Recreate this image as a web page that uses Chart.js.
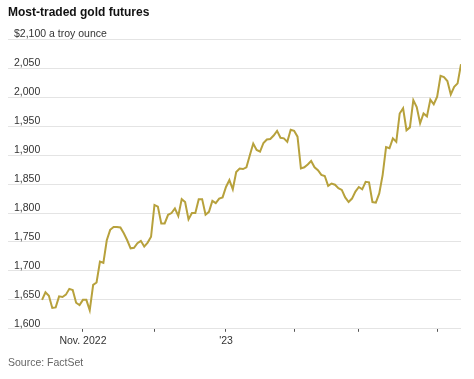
<!DOCTYPE html>
<html>
<head>
<meta charset="utf-8">
<script src="https://cdn.jsdelivr.net/npm/chart.js@4/dist/chart.umd.min.js"></script>
<style>
html,body{margin:0;padding:0;background:#fff;}
#wrap{width:474px;height:379px;position:relative;}
</style>
</head>
<body>
<div id="wrap"><canvas id="c" width="474" height="379"></canvas></div>
<script>
// Most-traded gold futures, daily settle ($ per troy ounce), mid-Oct 2022 to mid-Apr 2023
const prices = [
  1650,1663,1657,1636,1637,1656,1655,1659,1669,1667,1645,1641,1650,1650,1632,1676,1680,1716,1714,1753,
  1771,1776,1776,1775,1765,1753,1739,1740,1748,
  1752,1742,1749,1759,1814,1811,1782,1782,1797,1800,1808,1795,1824,1819,1789,1800,1800,1824,1824,1797,
  1802,1821,1817,1825,1827,1845,1857,1841,
  1871,1877,1876,1879,1900,1920,1909,1906,1921,1927,1928,1934,1942,1930,1929,1923,1944,1942,1932,1877,
  1879,1884,1890,1879,1874,1866,1864,1847,1851,1849,1843,1840,1827,1819,
  1825,1837,1845,1841,1854,1853,1819,1818,1834,1866,1914,1912,1929,1923,1972,1981,1943,1948,1995,1983,
  1955,1972,1967,1996,1988,2001,2037,2035,2028,2005,2018,2024,2057
];
// x tick positions (trading-day index of first session of each month) and their labels
const monthTickIdx = [12, 33, 54, 74, 93, 116];
const monthTickText = ['Nov. 2022', '', "'23", '', '', ''];
const yTicks = [1600,1650,1700,1750,1800,1850,1900,1950,2000,2050,2100];
const yTopLabel = '$2,100 a troy ounce';

const FONT = "'Liberation Sans',Arial,sans-serif";

new Chart(document.getElementById('c'), {
  type: 'line',
  data: {
    datasets: [{
      data: prices.map((p, i) => ({x: i, y: p})),
      borderColor: '#b7a13c',
      borderWidth: 2,
      pointRadius: 0,
      tension: 0,
      fill: false
    }]
  },
  options: {
    responsive: false,
    animation: false,
    layout: {padding: {left: 8, right: 13, top: 0, bottom: 0}},
    plugins: {
      legend: {display: false},
      tooltip: {enabled: false},
      title: {
        display: true,
        text: 'Most-traded gold futures',
        align: 'start',
        color: '#111',
        font: {family: FONT, size: 12, weight: 'bold'},
        padding: {top: 5, bottom: 20}
      },
      subtitle: {
        display: true,
        position: 'bottom',
        text: 'Source: FactSet',
        align: 'start',
        color: '#666',
        font: {family: FONT, size: 10.5},
        padding: {top: 6, bottom: 10}
      }
    },
    scales: {
      x: {
        type: 'linear',
        min: -10,
        max: prices.length - 1,
        afterBuildTicks: (axis) => { axis.ticks = monthTickIdx.map(v => ({value: v})); },
        afterFit: (axis) => { axis.paddingLeft = 0; axis.paddingRight = 0; },
        ticks: {
          autoSkip: false,
          maxRotation: 0,
          color: '#333',
          font: {family: FONT, size: 10.5},
          padding: 3,
          callback: (v) => { const k = monthTickIdx.indexOf(v); return k >= 0 ? monthTickText[k] : ''; }
        },
        grid: {drawOnChartArea: false, drawTicks: true, tickLength: 3, color: '#555', lineWidth: 1},
        border: {display: false}
      },
      y: {
        min: 1600,
        max: 2100,
        afterBuildTicks: (axis) => { axis.ticks = yTicks.map(v => ({value: v})); },
        afterFit: (axis) => { axis.width = 0; },
        ticks: {
          mirror: true,
          padding: 6,
          labelOffset: -5,
          color: '#333',
          font: {family: FONT, size: 10.5},
          callback: (v) => v === 2100 ? yTopLabel : v.toLocaleString('en-US')
        },
        grid: {color: '#e4e4e4', lineWidth: 1, drawTicks: false},
        border: {display: false}
      }
    }
  }
});
</script>
</body>
</html>
